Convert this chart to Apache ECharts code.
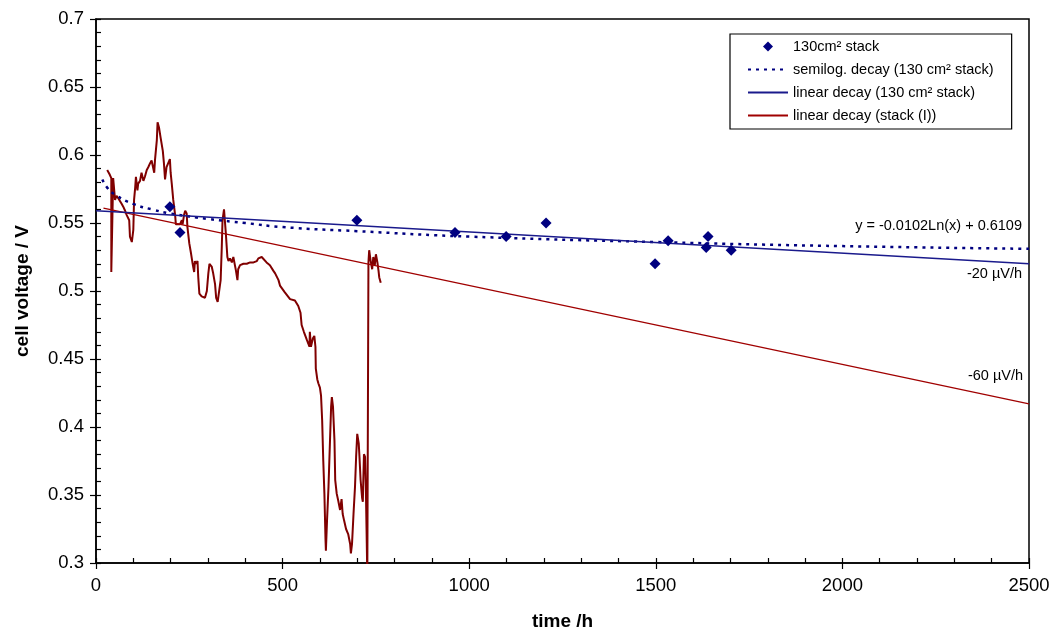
<!DOCTYPE html>
<html>
<head>
<meta charset="utf-8">
<script src="https://cdn.jsdelivr.net/npm/echarts@6/dist/echarts.min.js"></script>
<style>
  html, body { margin: 0; padding: 0; background: #fff; }
  #chart { width: 1055px; height: 631px; }
</style>
</head>
<body>
<div id="chart"></div>
<script>
// 130 cm² stack measurements
const stackTime = [198, 225, 699, 962, 1099, 1206, 1498, 1533, 1635, 1640, 1702];
const stackVoltage = [0.562, 0.543, 0.552, 0.543, 0.540, 0.550, 0.520, 0.537, 0.532, 0.540, 0.530];

// semilog trend line as drawn
const semilogTime = [17, 30, 50, 100, 150, 200, 300, 400, 500, 700, 1000, 1500, 2000, 2500];
const semilogVoltage = [0.582, 0.576, 0.571, 0.564, 0.560, 0.557, 0.553, 0.550, 0.547, 0.544, 0.540, 0.536, 0.533, 0.531];

// linear decay lines
const linear130Time = [0, 2500];
const linear130Voltage = [0.559, 0.520];
const linearITime = [20, 2500];
const linearIVoltage = [0.561, 0.417];

// stack (I) voltage trace
const traceTime = [30, 36, 41, 41, 44, 46, 51, 55, 60, 64, 69, 73, 78, 82, 89, 91, 96, 98, 100, 102,
  105, 107, 111, 113, 118, 122, 127, 131, 136, 140, 145, 149, 154, 156, 158, 163, 165, 169, 173, 179,
  182, 185, 189, 194, 198, 200, 203, 207, 212, 214, 218, 225, 230, 232, 236, 239, 243, 245, 250, 255,
  259, 263, 265, 268, 272, 274, 277, 283, 288, 292, 297, 301, 304, 310, 314, 319, 322, 326, 331, 334,
  337, 339, 343, 346, 348, 352, 355, 359, 364, 368, 371, 373, 375, 379, 381, 386, 395, 404, 413, 422,
  431, 435, 440, 444, 448, 457, 466, 475, 480, 489, 493, 506, 520, 533, 542, 548, 551, 557, 565, 572,
  573, 576, 581, 585, 588, 589, 593, 596, 600, 603, 606, 609, 612, 615, 616, 619, 623, 627, 630, 632,
  635, 639, 641, 645, 649, 654, 658, 661, 665, 670, 676, 681, 683, 686, 690, 694, 697, 700, 704, 706,
  709, 713, 715, 716, 718, 721, 723, 725, 727, 729, 730, 732, 736, 740, 743, 747, 750, 754, 757, 759, 763];
const traceVoltage = [0.589, 0.586, 0.583, 0.514, 0.515, 0.583, 0.567, 0.570, 0.568, 0.569, 0.564, 0.562, 0.559, 0.556, 0.552, 0.540, 0.536, 0.535, 0.545, 0.567,
  0.576, 0.584, 0.574, 0.579, 0.581, 0.587, 0.581, 0.584, 0.589, 0.591, 0.594, 0.596, 0.597, 0.587, 0.596, 0.611, 0.624, 0.620, 0.613, 0.603,
  0.594, 0.582, 0.591, 0.592, 0.597, 0.587, 0.579, 0.567, 0.556, 0.549, 0.548, 0.549, 0.552, 0.549, 0.556, 0.559, 0.557, 0.547, 0.535, 0.527,
  0.520, 0.514, 0.522, 0.520, 0.522, 0.510, 0.498, 0.496, 0.496, 0.495, 0.500, 0.513, 0.520, 0.518, 0.513, 0.505, 0.495, 0.492, 0.493, 0.508,
  0.532, 0.552, 0.560, 0.559, 0.542, 0.525, 0.522, 0.524, 0.521, 0.525, 0.526, 0.524, 0.515, 0.508, 0.516, 0.519, 0.520, 0.520, 0.521, 0.521,
  0.522, 0.524, 0.525, 0.525, 0.524, 0.521, 0.519, 0.515, 0.513, 0.508, 0.504, 0.499, 0.494, 0.493, 0.489, 0.484, 0.475, 0.470, 0.464, 0.459,
  0.470, 0.459, 0.465, 0.467, 0.459, 0.443, 0.435, 0.432, 0.429, 0.423, 0.405, 0.375, 0.351, 0.317, 0.309, 0.331, 0.356, 0.390, 0.415, 0.422,
  0.415, 0.390, 0.361, 0.351, 0.346, 0.339, 0.347, 0.336, 0.331, 0.325, 0.321, 0.314, 0.307, 0.314, 0.336, 0.356, 0.378, 0.395, 0.388, 0.378,
  0.361, 0.348, 0.345, 0.358, 0.380, 0.378, 0.356, 0.324, 0.290, 0.290, 0.521, 0.530, 0.522, 0.516, 0.525, 0.519, 0.527, 0.521, 0.515, 0.510, 0.506];

const pairs = (xs, ys) => xs.map((x, i) => [x, ys[i]]);

const NAVY = '#000080';
const FONT = '"Liberation Sans", Arial, sans-serif';

const chart = echarts.init(document.getElementById('chart'), null, { renderer: 'canvas' });

const baseAxis = {
  type: 'value',
  axisLine: { show: true, onZero: false, lineStyle: { color: '#000', width: 1.5 } },
  axisTick: { show: true, inside: false, length: 6, lineStyle: { color: '#000', width: 1.2 } },
  splitLine: { show: false },
  axisLabel: { color: '#000', fontSize: 18.5, fontFamily: FONT, formatter: (v) => String(v) },
};
// second axis on top of the first: inner major + minor ticks
const innerAxis = {
  type: 'value',
  axisLine: { show: false },
  axisTick: { show: true, inside: true, length: 5, lineStyle: { color: '#000', width: 1.2 } },
  minorTick: { show: true, splitNumber: 5, length: 5, lineStyle: { color: '#000', width: 1.2 } },
  splitLine: { show: false },
  axisLabel: { show: false },
};
const titleStyle = { color: '#000', fontSize: 19, fontWeight: 'bold', fontFamily: FONT };
const lineIconHidden = { opacity: 0 };

chart.setOption({
  animation: false,
  backgroundColor: '#fff',
  grid: {
    left: 96, right: 26, top: 19, bottom: 68, outerBoundsMode: 'none',
    show: true, borderColor: '#000', borderWidth: 1.5,
  },
  xAxis: [
    Object.assign({}, baseAxis, {
      min: 0, max: 2500, interval: 500, position: 'bottom',
      axisLabel: Object.assign({}, baseAxis.axisLabel, { margin: 13 }),
      name: 'time /h', nameLocation: 'middle', nameGap: 49, nameTextStyle: titleStyle,
    }),
    Object.assign({}, innerAxis, { min: 0, max: 2500, interval: 500, position: 'bottom' }),
  ],
  yAxis: [
    Object.assign({}, baseAxis, {
      min: 0.3, max: 0.7, interval: 0.05, position: 'left',
      axisLabel: Object.assign({}, baseAxis.axisLabel, { margin: 12 }),
      name: 'cell voltage / V', nameLocation: 'middle', nameGap: 64, nameTextStyle: titleStyle,
    }),
    Object.assign({}, innerAxis, { min: 0.3, max: 0.7, interval: 0.05, position: 'left' }),
  ],
  legend: {
    left: 730, top: 34, orient: 'vertical',
    itemWidth: 40, itemHeight: 10, itemGap: 8,
    padding: [5, 18, 6, 17],
    backgroundColor: '#fff', borderColor: '#000', borderWidth: 1.2, borderRadius: 0,
    textStyle: { color: '#000', fontSize: 14.5, fontFamily: FONT },
    data: [
      { name: '130cm² stack', icon: 'path://M5,0 L10,5 L5,10 L0,5 Z' },
      { name: 'semilog. decay (130 cm² stack)', itemStyle: lineIconHidden },
      { name: 'linear decay (130 cm² stack)', itemStyle: lineIconHidden },
      { name: 'linear decay (stack (I))', itemStyle: lineIconHidden },
    ],
  },
  series: [
    {
      name: 'stack (I)', type: 'line', data: pairs(traceTime, traceVoltage),
      showSymbol: false, symbol: 'none', z: 2,
      lineStyle: { color: '#800000', width: 2 },
    },
    {
      name: 'linear decay (stack (I))', type: 'line', data: pairs(linearITime, linearIVoltage),
      symbol: 'none', z: 3, itemStyle: { color: '#a00000' },
      lineStyle: { color: '#a00000', width: 1.2 },
    },
    {
      name: 'semilog. decay (130 cm² stack)', type: 'line', data: pairs(semilogTime, semilogVoltage),
      symbol: 'none', smooth: true, z: 4, itemStyle: { color: NAVY },
      lineStyle: { color: NAVY, width: 2.5, type: [3, 5] },
    },
    {
      name: 'linear decay (130 cm² stack)', type: 'line', data: pairs(linear130Time, linear130Voltage),
      symbol: 'none', z: 4, itemStyle: { color: '#1a1a8c' },
      lineStyle: { color: '#1a1a8c', width: 1.6 },
    },
    {
      name: '130cm² stack', type: 'scatter', data: pairs(stackTime, stackVoltage),
      symbol: 'diamond', symbolSize: 11, z: 5,
      itemStyle: { color: NAVY, opacity: 1 },
    },
  ],
  graphic: [
    { type: 'text', x: 1022, y: 226, style: { text: 'y = -0.0102Ln(x) + 0.6109', align: 'right', verticalAlign: 'middle', fill: '#000', font: '14.5px ' + FONT } },
    { type: 'text', x: 1022, y: 274, style: { text: '-20 µV/h', align: 'right', verticalAlign: 'middle', fill: '#000', font: '14.5px ' + FONT } },
    { type: 'text', x: 1023, y: 376, style: { text: '-60 µV/h', align: 'right', verticalAlign: 'middle', fill: '#000', font: '14.5px ' + FONT } },
  ],
});

window.addEventListener('resize', () => chart.resize());
</script>
</body>
</html>
